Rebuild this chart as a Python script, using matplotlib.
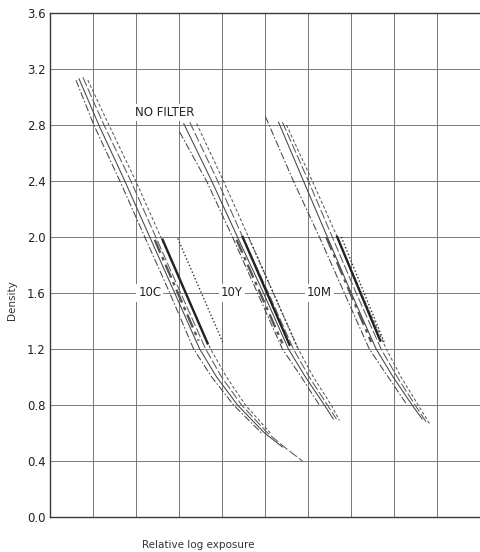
import matplotlib
matplotlib.use("Agg")
import matplotlib.pyplot as plt

# ---- data (relative log exposure, density) ----
# NO FILTER / 10C group (left)
c_dashdot_x = [0.121, 0.204, 0.325, 0.441, 0.557, 0.668, 0.752, 0.854, 0.984]
c_dashdot_d = [3.12, 2.80, 2.40, 2.00, 1.60, 1.20, 1.00, 0.80, 0.60]
c_solid_x = [0.135, 0.227, 0.348, 0.464, 0.580, 0.696, 0.775, 0.872, 0.998, 1.081]
c_solid_d = [3.13, 2.80, 2.40, 2.00, 1.60, 1.20, 1.00, 0.80, 0.60, 0.50]
c_longdash_x = [0.153, 0.251, 0.376, 0.492, 0.608, 0.724, 0.798, 0.891, 1.012, 1.090, 1.174]
c_longdash_d = [3.14, 2.80, 2.40, 2.00, 1.60, 1.20, 1.00, 0.80, 0.60, 0.50, 0.40]
c_dashed_x = [0.176, 0.274, 0.399, 0.515, 0.631, 0.747, 0.821, 0.909, 1.025]
c_dashed_d = [3.12, 2.80, 2.40, 2.00, 1.60, 1.20, 1.00, 0.80, 0.60]

# 10Y group (middle)
y_dashdot_x = [0.603, 0.728, 0.849, 0.965, 1.081, 1.169, 1.253]
y_dashdot_d = [2.75, 2.40, 2.00, 1.60, 1.20, 1.00, 0.80]
y_solid_x = [0.622, 0.752, 0.872, 0.993, 1.109, 1.188, 1.276, 1.318]
y_solid_d = [2.81, 2.40, 2.00, 1.60, 1.20, 1.00, 0.80, 0.70]
y_longdash_x = [0.650, 0.780, 0.896, 1.016, 1.132, 1.206, 1.290, 1.332]
y_longdash_d = [2.82, 2.40, 2.00, 1.60, 1.20, 1.00, 0.80, 0.70]
y_dashed_x = [0.682, 0.807, 0.923, 1.039, 1.155, 1.225, 1.308, 1.346]
y_dashed_d = [2.81, 2.40, 2.00, 1.60, 1.20, 1.00, 0.80, 0.69]

# 10M group (right)
m_dashdot_x = [1.002, 1.132, 1.253, 1.369, 1.485, 1.573, 1.661]
m_dashdot_d = [2.86, 2.40, 2.00, 1.60, 1.20, 1.00, 0.80]
m_solid_x = [1.063, 1.179, 1.290, 1.401, 1.517, 1.596, 1.684, 1.731]
m_solid_d = [2.82, 2.40, 2.00, 1.60, 1.20, 1.00, 0.80, 0.70]
m_longdash_x = [1.081, 1.202, 1.313, 1.424, 1.540, 1.615, 1.698, 1.749]
m_longdash_d = [2.82, 2.40, 2.00, 1.60, 1.20, 1.00, 0.80, 0.68]
m_dashed_x = [1.100, 1.220, 1.336, 1.448, 1.564, 1.633, 1.712, 1.768]
m_dashed_d = [2.80, 2.40, 2.00, 1.60, 1.20, 1.00, 0.80, 0.66]

# short straight-line-region segments (thick solid, thick grey, dotted)
seg_thick_x = [[0.524, 0.733], [0.896, 1.114], [1.336, 1.536]]
seg_thick_d = [[1.98, 1.24], [2.00, 1.23], [2.00, 1.26]]
seg_grey_x = [[0.487, 0.691], [0.868, 1.081], [1.285, 1.494]]
seg_grey_d = [[1.98, 1.26], [1.98, 1.24], [2.00, 1.25]]
seg_dot_x = [[0.594, 0.803], [0.923, 1.151], [1.355, 1.554]]
seg_dot_d = [[1.99, 1.25], [2.00, 1.21], [2.00, 1.25]]

labels = ["NO FILTER", "10C", "10Y", "10M"]
label_x = [0.534, 0.464, 0.845, 1.253]
label_d = [2.89, 1.60, 1.60, 1.60]

y_ticks = [0.0, 0.4, 0.8, 1.2, 1.6, 2.0, 2.4, 2.8, 3.2, 3.6]
y_ticklabels = ["0.0", "0.4", "0.8", "1.2", "1.6", "2.0", "2.4", "2.8", "3.2", "3.6"]
x_grid = [0.2, 0.4, 0.6, 0.8, 1.0, 1.2, 1.4, 1.6, 1.8]

# ---- drawing ----
fig = plt.figure(figsize=(4.8, 5.52), dpi=100)
ax = fig.add_axes([50 / 480, 35 / 552, 430 / 480, 504 / 552])
ax.set_xlim(0, 2.0)
ax.set_ylim(0, 3.6)

gc = "#6e6e6e"
for gx in x_grid:
    ax.axvline(gx, color=gc, lw=0.65, zorder=1)
for gy in y_ticks[1:-1]:
    ax.axhline(gy, color=gc, lw=0.65, zorder=1)

for s in ["left", "bottom", "top"]:
    ax.spines[s].set_color("#3a3a3a")
    ax.spines[s].set_linewidth(1.0)
ax.spines["right"].set_visible(False)

ax.set_yticks(y_ticks)
ax.set_yticklabels(y_ticklabels, fontsize=8.5, color="#222222")
ax.set_xticks([])
ax.tick_params(axis="y", length=0, pad=3)

lc = "#454545"
dd = (0, (7, 2, 1.5, 2))
ld = (0, (9, 2.5))
ds = (0, (3, 2))
for xs, ds_ in [(c_dashdot_x, c_dashdot_d), (y_dashdot_x, y_dashdot_d), (m_dashdot_x, m_dashdot_d)]:
    ax.plot(xs, ds_, color=lc, lw=0.75, ls=dd, zorder=3)
for xs, ds_ in [(c_solid_x, c_solid_d), (y_solid_x, y_solid_d), (m_solid_x, m_solid_d)]:
    ax.plot(xs, ds_, color=lc, lw=0.75, ls="-", zorder=3)
for xs, ds_ in [(c_longdash_x, c_longdash_d), (y_longdash_x, y_longdash_d), (m_longdash_x, m_longdash_d)]:
    ax.plot(xs, ds_, color="#5a5a5a", lw=0.75, ls=ld, zorder=3)
for xs, ds_ in [(c_dashed_x, c_dashed_d), (y_dashed_x, y_dashed_d), (m_dashed_x, m_dashed_d)]:
    ax.plot(xs, ds_, color="#5a5a5a", lw=0.75, ls=ds, zorder=3)

for xs, ds_ in zip(seg_thick_x, seg_thick_d):
    ax.plot(xs, ds_, color="#222222", lw=1.7, ls="-", zorder=4)
for xs, ds_ in zip(seg_grey_x, seg_grey_d):
    ax.plot(xs, ds_, color="#555555", lw=1.7, ls=(0, (6, 2, 1.5, 2)), zorder=4)
for xs, ds_ in zip(seg_dot_x, seg_dot_d):
    ax.plot(xs, ds_, color="#333333", lw=1.0, ls=(0, (1, 1.6)), zorder=4)

for t, tx, ty in zip(labels, label_x, label_d):
    ax.text(tx, ty, t, fontsize=8.5, color="#222222", ha="center", va="center", zorder=6,
            bbox=dict(facecolor="white", edgecolor="none", pad=1.5))

fig.text(12 / 480, 1 - 300 / 552, "Density", rotation=90, fontsize=7.5,
         color="#333333", ha="center", va="center")
fig.text(198 / 480, 1 - 545 / 552, "Relative log exposure", fontsize=7.5,
         color="#333333", ha="center", va="center")

fig.savefig("out.png", dpi=100, facecolor="white")
